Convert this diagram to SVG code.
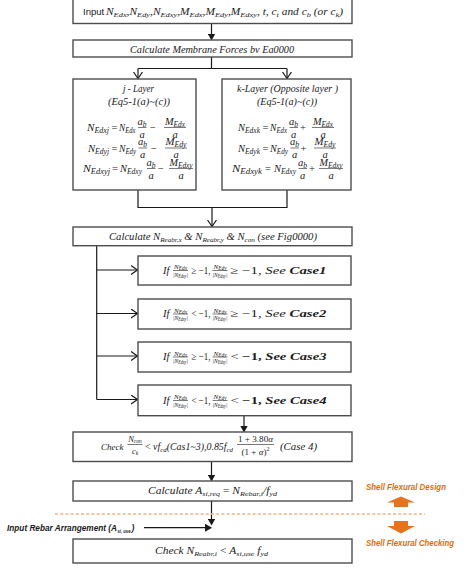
<svg xmlns="http://www.w3.org/2000/svg" width="474" height="577" viewBox="0 0 474 577">
<style>
.box{fill:#fff;stroke:#4d4d4d;stroke-width:1.4}
.ln{fill:none;stroke:#1a1a1a;stroke-width:1.2}
.bar{stroke:#222;stroke-width:0.6}
.m{font-family:"Liberation Serif",serif;font-style:italic;font-size:10.5px;fill:#1a1a1a}
.op{font-family:"Liberation Serif",serif;font-size:10.5px;fill:#1a1a1a}
.s{font-size:7.5px}
.f{font-family:"Liberation Serif",serif;font-style:italic;font-size:7px;fill:#1a1a1a}
.fs{font-size:5.2px}
.b{font-weight:bold}
.sans{font-family:"Liberation Sans",Arial,sans-serif;font-size:9.5px;fill:#1a1a1a}
.or{font-family:"Liberation Sans",Arial,sans-serif;font-size:8.5px;font-weight:bold;font-style:italic;fill:#E36C0A}
.mid{text-anchor:middle}
</style>
<defs>
<marker id="fa" markerUnits="userSpaceOnUse" markerWidth="7" markerHeight="8" refX="6" refY="4" orient="auto"><path d="M0,0 L7,4 L0,8 z" fill="#1a1a1a"/></marker>
<marker id="oa" markerUnits="userSpaceOnUse" markerWidth="8" markerHeight="10" refX="7" refY="5" orient="auto"><path d="M0.5,0.5 L7,5 L0.5,9.5" fill="none" stroke="#1a1a1a" stroke-width="1.2"/></marker>
</defs>

<g id="connectors">
<line class="ln" x1="211.5" y1="24" x2="211.5" y2="39.5" marker-end="url(#fa)"/>
<path class="ln" d="M211.5 57 V68.5 M138 68.5 H287"/>
<line class="ln" x1="138" y1="68.5" x2="138" y2="78.5" marker-end="url(#oa)"/>
<line class="ln" x1="287" y1="68.5" x2="287" y2="78.5" marker-end="url(#oa)"/>
<path class="ln" d="M138 190 V207.5 H287 V190"/>
<line class="ln" x1="212" y1="207.5" x2="212" y2="226.5" marker-end="url(#oa)"/>
<path class="ln" d="M96.7 245.7 V399.5"/>
<line class="ln" x1="96.7" y1="270" x2="137.5" y2="270" marker-end="url(#oa)"/>
<line class="ln" x1="96.7" y1="313.5" x2="137.5" y2="313.5" marker-end="url(#oa)"/>
<line class="ln" x1="96.7" y1="356" x2="137.5" y2="356" marker-end="url(#oa)"/>
<line class="ln" x1="96.7" y1="399.5" x2="137.5" y2="399.5" marker-end="url(#oa)"/>
<line class="ln" x1="244" y1="415.7" x2="244" y2="431.5" marker-end="url(#fa)"/>
<line class="ln" x1="211.5" y1="461.5" x2="211.5" y2="480.5" marker-end="url(#fa)"/>
<line class="ln" x1="211.5" y1="501" x2="211.5" y2="524.5" marker-end="url(#fa)"/>
<line class="ln" x1="144" y1="527.7" x2="211" y2="527.7" marker-end="url(#fa)"/>
</g>

<g id="input">
<rect class="box" x="73" y="-2" width="279" height="25.5"/>
<text class="sans" x="83" y="15">Input</text>
<text class="m" style="font-size:9.5px" x="106" y="15" textLength="237" lengthAdjust="spacingAndGlyphs">N<tspan class="s" style="font-size:7px" dy="2">Edx</tspan><tspan dy="-2">,N</tspan><tspan class="s" style="font-size:7px" dy="2">Edy</tspan><tspan dy="-2">,N</tspan><tspan class="s" style="font-size:7px" dy="2">Edxy</tspan><tspan dy="-2">,M</tspan><tspan class="s" style="font-size:7px" dy="2">Edx</tspan><tspan dy="-2">,M</tspan><tspan class="s" style="font-size:7px" dy="2">Edy</tspan><tspan dy="-2">,M</tspan><tspan class="s" style="font-size:7px" dy="2">Edxy</tspan><tspan dy="-2">, t, c</tspan><tspan class="s" style="font-size:7px" dy="2">t</tspan><tspan dy="-2">  and  c</tspan><tspan class="s" style="font-size:7px" dy="2">b</tspan><tspan dy="-2">  (or  c</tspan><tspan class="s" style="font-size:7px" dy="2">k</tspan><tspan dy="-2">)</tspan></text>
</g>

<g id="membrane">
<rect class="box" x="73" y="40" width="279" height="17"/>
<text class="m" x="130" y="52.5" textLength="164" lengthAdjust="spacingAndGlyphs">Calculate Membrane Forces bv Ea0000</text>
</g>

<g id="j-layer">
<rect class="box" x="73" y="79" width="123" height="111"/>
<text class="m mid" x="138.5" y="92" textLength="31" lengthAdjust="spacingAndGlyphs">j - Layer</text>
<text class="m mid" x="139" y="104.5" textLength="62" lengthAdjust="spacingAndGlyphs">(Eq5-1(a)~(c))</text>
<text class="m" x="87" y="131" textLength="22" lengthAdjust="spacingAndGlyphs">N<tspan class="s" dy="2">Edxj</tspan></text>
<text class="op mid" x="114.5" y="131">=</text>
<text class="m" x="119" y="131" textLength="16.5" lengthAdjust="spacingAndGlyphs">N<tspan class="s" dy="2">Edx</tspan></text>
<text class="m mid" x="142" y="124.5">a<tspan class="s" dy="2">b</tspan></text>
<line class="bar" x1="138" y1="127.5" x2="146.5" y2="127.5"/>
<text class="m mid" x="142" y="137.5">a</text>
<text class="op mid" x="153" y="131">−</text>
<text class="m mid" x="175" y="124.5" textLength="20" lengthAdjust="spacingAndGlyphs">M<tspan class="s" dy="2">Edx</tspan></text>
<line class="bar" x1="164" y1="127.5" x2="186" y2="127.5"/>
<text class="m mid" x="175" y="137.5">a</text>
<text class="m" x="88" y="151.5" textLength="21" lengthAdjust="spacingAndGlyphs">N<tspan class="s" dy="2">Edyj</tspan></text>
<text class="op mid" x="114.5" y="151.5">=</text>
<text class="m" x="119" y="151.5" textLength="17" lengthAdjust="spacingAndGlyphs">N<tspan class="s" dy="2">Edy</tspan></text>
<text class="m mid" x="142.5" y="145">a<tspan class="s" dy="2">b</tspan></text>
<line class="bar" x1="138.5" y1="148" x2="147" y2="148"/>
<text class="m mid" x="142.5" y="158">a</text>
<text class="op mid" x="154" y="151.5">−</text>
<text class="m mid" x="176" y="145" textLength="21" lengthAdjust="spacingAndGlyphs">M<tspan class="s" dy="2">Edy</tspan></text>
<line class="bar" x1="165" y1="148" x2="187" y2="148"/>
<text class="m mid" x="176" y="158">a</text>
<text class="m" x="83" y="172" textLength="27" lengthAdjust="spacingAndGlyphs">N<tspan class="s" dy="2">Edxyj</tspan></text>
<text class="op mid" x="115" y="172">=</text>
<text class="m" x="120" y="172" textLength="22" lengthAdjust="spacingAndGlyphs">N<tspan class="s" dy="2">Edxy</tspan></text>
<text class="m mid" x="151" y="165.5">a<tspan class="s" dy="2">b</tspan></text>
<line class="bar" x1="147" y1="168.5" x2="155.5" y2="168.5"/>
<text class="m mid" x="151" y="178.5">a</text>
<text class="op mid" x="161" y="172">−</text>
<text class="m mid" x="181" y="165.5" textLength="23" lengthAdjust="spacingAndGlyphs">M<tspan class="s" dy="2">Edxy</tspan></text>
<line class="bar" x1="169" y1="168.5" x2="193" y2="168.5"/>
<text class="m mid" x="181" y="178.5">a</text>
</g>

<g id="k-layer">
<rect class="box" x="222" y="79" width="129" height="111"/>
<text class="m mid" x="287.5" y="92" textLength="101" lengthAdjust="spacingAndGlyphs">k-Layer (Opposite layer )</text>
<text class="m mid" x="287" y="104.5" textLength="60" lengthAdjust="spacingAndGlyphs">(Eq5-1(a)~(c))</text>
<text class="m" x="238" y="131" textLength="22" lengthAdjust="spacingAndGlyphs">N<tspan class="s" dy="2">Edxk</tspan></text>
<text class="op mid" x="265.5" y="131">=</text>
<text class="m" x="270" y="131" textLength="17" lengthAdjust="spacingAndGlyphs">N<tspan class="s" dy="2">Edx</tspan></text>
<text class="m mid" x="293.5" y="124.5">a<tspan class="s" dy="2">b</tspan></text>
<line class="bar" x1="289.5" y1="127.5" x2="298" y2="127.5"/>
<text class="m mid" x="293.5" y="137.5">a</text>
<text class="op mid" x="303" y="131">+</text>
<text class="m mid" x="323" y="124.5" textLength="20" lengthAdjust="spacingAndGlyphs">M<tspan class="s" dy="2">Edx</tspan></text>
<line class="bar" x1="312" y1="127.5" x2="334" y2="127.5"/>
<text class="m mid" x="323" y="137.5">a</text>
<text class="m" x="238" y="151.5" textLength="22" lengthAdjust="spacingAndGlyphs">N<tspan class="s" dy="2">Edyk</tspan></text>
<text class="op mid" x="265.5" y="151.5">=</text>
<text class="m" x="270" y="151.5" textLength="18" lengthAdjust="spacingAndGlyphs">N<tspan class="s" dy="2">Edy</tspan></text>
<text class="m mid" x="294.5" y="145">a<tspan class="s" dy="2">b</tspan></text>
<line class="bar" x1="290.5" y1="148" x2="299" y2="148"/>
<text class="m mid" x="294.5" y="158">a</text>
<text class="op mid" x="303.5" y="151.5">+</text>
<text class="m mid" x="325" y="145" textLength="21" lengthAdjust="spacingAndGlyphs">M<tspan class="s" dy="2">Edy</tspan></text>
<line class="bar" x1="314" y1="148" x2="336" y2="148"/>
<text class="m mid" x="325" y="158">a</text>
<text class="m" x="232" y="172" textLength="30" lengthAdjust="spacingAndGlyphs">N<tspan class="s" dy="2">Edxyk</tspan></text>
<text class="op mid" x="268" y="172">=</text>
<text class="m" x="274" y="172" textLength="22" lengthAdjust="spacingAndGlyphs">N<tspan class="s" dy="2">Edxy</tspan></text>
<text class="m mid" x="302.5" y="165.5">a<tspan class="s" dy="2">b</tspan></text>
<line class="bar" x1="298.5" y1="168.5" x2="307" y2="168.5"/>
<text class="m mid" x="302.5" y="178.5">a</text>
<text class="op mid" x="312" y="172">+</text>
<text class="m mid" x="331" y="165.5" textLength="23" lengthAdjust="spacingAndGlyphs">M<tspan class="s" dy="2">Edxy</tspan></text>
<line class="bar" x1="319" y1="168.5" x2="343" y2="168.5"/>
<text class="m mid" x="331" y="178.5">a</text>
</g>

<g id="calc-n">
<rect class="box" x="73" y="227" width="279" height="18.7"/>
<text class="m" x="109" y="239.5" textLength="208" lengthAdjust="spacingAndGlyphs">Calculate N<tspan class="s" style="font-size:7px" dy="2">Reabr,x</tspan><tspan dy="-2"> &amp; N</tspan><tspan class="s" style="font-size:7px" dy="2">Reabr,y</tspan><tspan dy="-2"> &amp; N</tspan><tspan class="s" style="font-size:7px" dy="2">con</tspan><tspan dy="-2"> (see Fig0000)</tspan></text>
</g>

<g id="case1">
<rect class="box" x="138" y="256" width="213" height="29"/>
<text class="m" x="163" y="273.5">If</text>
<text class="f mid" x="180.5" y="269" textLength="13" lengthAdjust="spacingAndGlyphs">N<tspan class="fs" dy="1.2">Edx</tspan></text>
<line class="bar" x1="173" y1="270.5" x2="188" y2="270.5"/>
<text class="f mid" x="180.5" y="276.5" textLength="15" lengthAdjust="spacingAndGlyphs">|N<tspan class="fs" dy="1.2">Edxy</tspan><tspan dy="-1.2">|</tspan></text>
<text class="op" x="191.5" y="273.5" textLength="19" lengthAdjust="spacingAndGlyphs">≥ −1,</text>
<text class="f mid" x="220" y="269" textLength="13" lengthAdjust="spacingAndGlyphs">N<tspan class="fs" dy="1.2">Edy</tspan></text>
<line class="bar" x1="212.5" y1="270.5" x2="227.5" y2="270.5"/>
<text class="f mid" x="220" y="276.5" textLength="15" lengthAdjust="spacingAndGlyphs">|N<tspan class="fs" dy="1.2">Edxy</tspan><tspan dy="-1.2">|</tspan></text>
<text class="m" x="230.5" y="273.5" textLength="96" lengthAdjust="spacingAndGlyphs"><tspan style="font-style:normal">≥ −1,</tspan> See <tspan class="b">Case1</tspan></text>
</g>

<g id="case2">
<rect class="box" x="138" y="299" width="213" height="30"/>
<text class="m" x="163" y="317">If</text>
<text class="f mid" x="180.5" y="312.5" textLength="13" lengthAdjust="spacingAndGlyphs">N<tspan class="fs" dy="1.2">Edx</tspan></text>
<line class="bar" x1="173" y1="314" x2="188" y2="314"/>
<text class="f mid" x="180.5" y="320" textLength="15" lengthAdjust="spacingAndGlyphs">|N<tspan class="fs" dy="1.2">Edxy</tspan><tspan dy="-1.2">|</tspan></text>
<text class="op" x="191.5" y="317" textLength="19" lengthAdjust="spacingAndGlyphs">&lt; −1,</text>
<text class="f mid" x="220" y="312.5" textLength="13" lengthAdjust="spacingAndGlyphs">N<tspan class="fs" dy="1.2">Edy</tspan></text>
<line class="bar" x1="212.5" y1="314" x2="227.5" y2="314"/>
<text class="f mid" x="220" y="320" textLength="15" lengthAdjust="spacingAndGlyphs">|N<tspan class="fs" dy="1.2">Edxy</tspan><tspan dy="-1.2">|</tspan></text>
<text class="m" x="230.5" y="317" textLength="96" lengthAdjust="spacingAndGlyphs"><tspan style="font-style:normal">≥ −1,</tspan> See <tspan class="b">Case2</tspan></text>
</g>

<g id="case3">
<rect class="box" x="138" y="342" width="213" height="30"/>
<text class="m" x="163" y="360">If</text>
<text class="f mid" x="180.5" y="355.5" textLength="13" lengthAdjust="spacingAndGlyphs">N<tspan class="fs" dy="1.2">Edx</tspan></text>
<line class="bar" x1="173" y1="357" x2="188" y2="357"/>
<text class="f mid" x="180.5" y="363" textLength="15" lengthAdjust="spacingAndGlyphs">|N<tspan class="fs" dy="1.2">Edxy</tspan><tspan dy="-1.2">|</tspan></text>
<text class="op" x="191.5" y="360" textLength="19" lengthAdjust="spacingAndGlyphs">≥ −1,</text>
<text class="f mid" x="220" y="355.5" textLength="13" lengthAdjust="spacingAndGlyphs">N<tspan class="fs" dy="1.2">Edy</tspan></text>
<line class="bar" x1="212.5" y1="357" x2="227.5" y2="357"/>
<text class="f mid" x="220" y="363" textLength="15" lengthAdjust="spacingAndGlyphs">|N<tspan class="fs" dy="1.2">Edxy</tspan><tspan dy="-1.2">|</tspan></text>
<text class="m" x="230.5" y="360" textLength="96" lengthAdjust="spacingAndGlyphs"><tspan style="font-style:normal">&lt; </tspan><tspan class="b" style="font-style:normal">−1,</tspan><tspan class="b"> See Case3</tspan></text>
</g>

<g id="case4">
<rect class="box" x="138" y="385" width="213" height="30.7"/>
<text class="m" x="163" y="403.5">If</text>
<text class="f mid" x="180.5" y="399" textLength="13" lengthAdjust="spacingAndGlyphs">N<tspan class="fs" dy="1.2">Edx</tspan></text>
<line class="bar" x1="173" y1="400.5" x2="188" y2="400.5"/>
<text class="f mid" x="180.5" y="406.5" textLength="15" lengthAdjust="spacingAndGlyphs">|N<tspan class="fs" dy="1.2">Edxy</tspan><tspan dy="-1.2">|</tspan></text>
<text class="op" x="191.5" y="403.5" textLength="19" lengthAdjust="spacingAndGlyphs">&lt; −1,</text>
<text class="f mid" x="220" y="399" textLength="13" lengthAdjust="spacingAndGlyphs">N<tspan class="fs" dy="1.2">Edy</tspan></text>
<line class="bar" x1="212.5" y1="400.5" x2="227.5" y2="400.5"/>
<text class="f mid" x="220" y="406.5" textLength="15" lengthAdjust="spacingAndGlyphs">|N<tspan class="fs" dy="1.2">Edxy</tspan><tspan dy="-1.2">|</tspan></text>
<text class="m" x="230.5" y="403.5" textLength="96" lengthAdjust="spacingAndGlyphs"><tspan style="font-style:normal">&lt; </tspan><tspan class="b" style="font-style:normal">−1,</tspan><tspan class="b"> See Case4</tspan></text>
</g>

<g id="check-con">
<rect class="box" x="73" y="432" width="279" height="29.5"/>
<text class="m" style="font-size:9px" x="101" y="450">Check</text>
<text class="m mid" style="font-size:8.5px" x="135" y="441.8">N<tspan class="s" style="font-size:5.5px" dy="1.5">con</tspan></text>
<line class="bar" x1="127.5" y1="444.5" x2="142.5" y2="444.5"/>
<text class="m mid" style="font-size:8.5px" x="135" y="453.5">c<tspan class="s" style="font-size:5.5px" dy="1.5">k</tspan></text>
<text class="m" style="font-size:9.5px" x="145" y="450" textLength="88" lengthAdjust="spacingAndGlyphs"><tspan style="font-style:normal">&lt;</tspan> νf<tspan class="s" style="font-size:6.5px" dy="1.5">cd</tspan><tspan dy="-1.5">(Cas1~3),0.85f</tspan><tspan class="s" style="font-size:6.5px" dy="1.5">cd</tspan></text>
<text class="op mid" style="font-size:9px" x="255.5" y="442" textLength="35" lengthAdjust="spacingAndGlyphs">1 + 3.80<tspan style="font-style:italic">α</tspan></text>
<line class="bar" x1="237" y1="444.5" x2="274" y2="444.5"/>
<text class="op mid" style="font-size:9px" x="255.5" y="454.5">(1 + <tspan style="font-style:italic">α</tspan>)<tspan style="font-size:6px" dy="-3.5">2</tspan></text>
<text class="m" style="font-size:9.5px" x="280" y="450" textLength="37" lengthAdjust="spacingAndGlyphs">(Case  4)</text>
</g>

<g id="calc-a">
<rect class="box" x="73" y="481" width="279" height="20"/>
<text class="m" style="font-size:10px" x="148" y="494" textLength="129" lengthAdjust="spacingAndGlyphs">Calculate  A<tspan class="s" style="font-size:7px" dy="1.5">si,req</tspan><tspan dy="-1.5" style="font-style:normal"> = </tspan><tspan>N</tspan><tspan class="s" style="font-size:7px" dy="1.5">Rebar,i</tspan><tspan dy="-1.5">/f</tspan><tspan class="s" style="font-size:7px" dy="1.5">yd</tspan></text>
</g>

<g id="rebar-input">
<text class="sans" style="font-size:8.5px;font-weight:bold;font-style:italic" x="7" y="530.5" textLength="110" lengthAdjust="spacingAndGlyphs">Input Rebar Arrangement (A</text>
<text class="sans" style="font-size:5.5px;font-weight:bold;font-style:italic" x="117.5" y="533" textLength="13" lengthAdjust="spacingAndGlyphs">si, use</text>
<text class="sans" style="font-size:8.5px;font-weight:bold;font-style:italic" x="131.5" y="530.5">)</text>
</g>

<g id="check-rebar">
<rect class="box" x="73" y="539" width="279" height="24"/>
<text class="m" style="font-size:10px" x="155" y="554" textLength="113" lengthAdjust="spacingAndGlyphs">Check   N<tspan class="s" style="font-size:7px" dy="1.5">Reabr,i</tspan><tspan dy="-1.5" style="font-style:normal"> &lt; </tspan><tspan>A</tspan><tspan class="s" style="font-size:7px" dy="1.5">si,use</tspan><tspan dy="-1.5"> f</tspan><tspan class="s" style="font-size:7px" dy="1.5">yd</tspan></text>
</g>

<g id="design-check-divider">
<line x1="55" y1="514" x2="425" y2="514" stroke="#F4B183" stroke-width="1.3" stroke-dasharray="3 2.2"/>
<text class="or" x="366" y="489.5" textLength="80" lengthAdjust="spacingAndGlyphs">Shell Flexural Design</text>
<path d="M401 496.5 L415 502.5 L408 502.5 L408 507 L394 507 L394 502.5 L387 502.5 Z" fill="#E8731D"/>
<path d="M394 521 L408 521 L408 526 L415 526 L401 533.5 L387 526 L394 526 Z" fill="#E8731D"/>
<text class="or" x="366" y="545.5" textLength="88" lengthAdjust="spacingAndGlyphs">Shell Flexural Checking</text>
</g>
</svg>
